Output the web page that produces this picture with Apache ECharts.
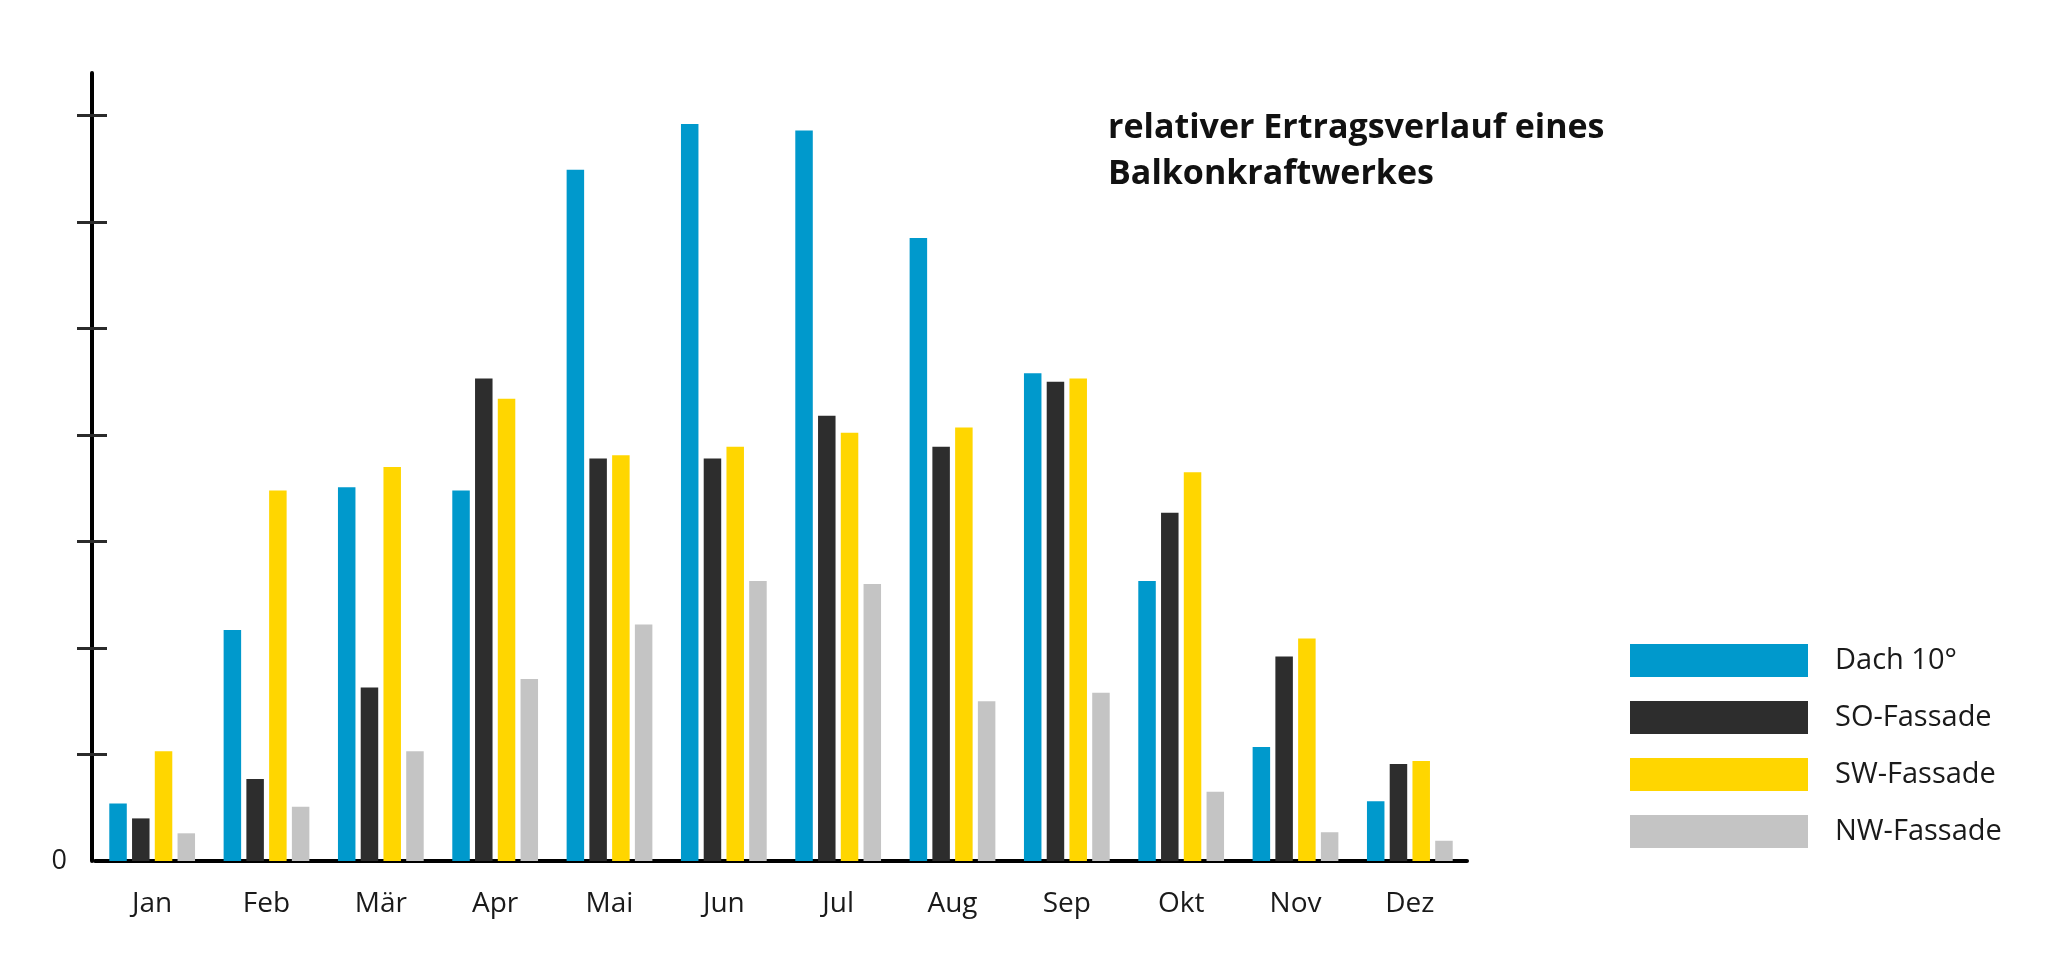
<!DOCTYPE html>
<html>
<head>
<meta charset="utf-8">
<script src="https://cdn.jsdelivr.net/npm/echarts@6/dist/echarts.min.js"></script>
<style>
html,body{margin:0;padding:0;background:#fff;}
#chart{width:2048px;height:970px;}
</style>
</head>
<body>
<div id="chart"></div>
<script>
const months = ['Jan','Feb','Mär','Apr','Mai','Jun','Jul','Aug','Sep','Okt','Nov','Dez'];
const seriesNames = ['Dach 10°','SO-Fassade','SW-Fassade','NW-Fassade'];
const dach = [0.54, 2.17, 3.51, 3.48, 6.49, 6.92, 6.86, 5.85, 4.58, 2.63, 1.07, 0.56];
const soFassade = [0.40, 0.77, 1.63, 4.53, 3.78, 3.78, 4.18, 3.89, 4.50, 3.27, 1.92, 0.91];
const swFassade = [1.03, 3.48, 3.70, 4.34, 3.81, 3.89, 4.02, 4.07, 4.53, 3.65, 2.09, 0.94];
const nwFassade = [0.26, 0.51, 1.03, 1.71, 2.22, 2.63, 2.60, 1.50, 1.58, 0.65, 0.27, 0.19];
const tickValues = [1,2,3,4,5,6,7];
const tickLabels = [0];
const colors = ['#0099cc','#2d2d2d','#ffd600','#c4c4c4'];
const titleText = 'relativer Ertragsverlauf eines\nBalkonkraftwerkes';

const chart = echarts.init(document.getElementById('chart'));
const yMax = 7.4;
const dataSets = [dach, soFassade, swFassade, nwFassade];

const option = {
  backgroundColor: '#ffffff',
  animation: false,
  title: {
    text: titleText,
    left: 1103,
    top: 100,
    textStyle: {
      fontFamily: 'Open Sans',
      fontWeight: 'bold',
      fontSize: 34,
      lineHeight: 46,
      color: '#111111'
    }
  },
  legend: {
    orient: 'vertical',
    left: 1625,
    top: 639,
    itemWidth: 178,
    itemHeight: 33,
    itemGap: 24,
    icon: 'rect',
    data: seriesNames,
    textStyle: {
      fontFamily: 'Open Sans',
      fontSize: 29,
      color: '#1a1a1a',
      padding: [0,0,0,22]
    }
  },
  grid: {
    left: 95,
    right: 581,
    top: 72.9,
    bottom: 109,
    containLabel: false
  },
  xAxis: {
    type: 'category',
    data: months,
    boundaryGap: true,
    axisLine: { show: true, lineStyle: { color: '#000000', width: 4 } },
    axisTick: { show: false },
    axisLabel: {
      fontFamily: 'Open Sans',
      fontSize: 28,
      color: '#1a1a1a',
      margin: 29
    },
    splitLine: { show: false }
  },
  yAxis: [
    {
      type: 'value',
      min: 0,
      max: yMax,
      interval: 1,
      offset: 3,
      axisLine: { show: true, lineStyle: { color: '#000000', width: 4 } },
      axisTick: { show: true, customValues: tickValues, length: 15, lineStyle: { color: '#2b2b2b', width: 3 } },
      axisLabel: { show: true, customValues: tickLabels, fontFamily: 'Open Sans', fontSize: 27, color: '#1a1a1a', margin: 25 },
      splitLine: { show: false }
    },
    {
      type: 'value',
      position: 'left',
      min: 0,
      max: yMax,
      interval: 1,
      offset: 3,
      axisLine: { show: false },
      axisTick: { show: true, inside: true, customValues: tickValues, length: 15, lineStyle: { color: '#2b2b2b', width: 3 } },
      axisLabel: { show: false },
      splitLine: { show: false }
    }
  ],
  series: seriesNames.map((name, i) => ({
    name: name,
    type: 'bar',
    yAxisIndex: 0,
    data: dataSets[i],
    barWidth: 17.5,
    barGap: '30%',
    itemStyle: { color: colors[i] }
  }))
};
chart.setOption(option);
</script>
</body>
</html>
